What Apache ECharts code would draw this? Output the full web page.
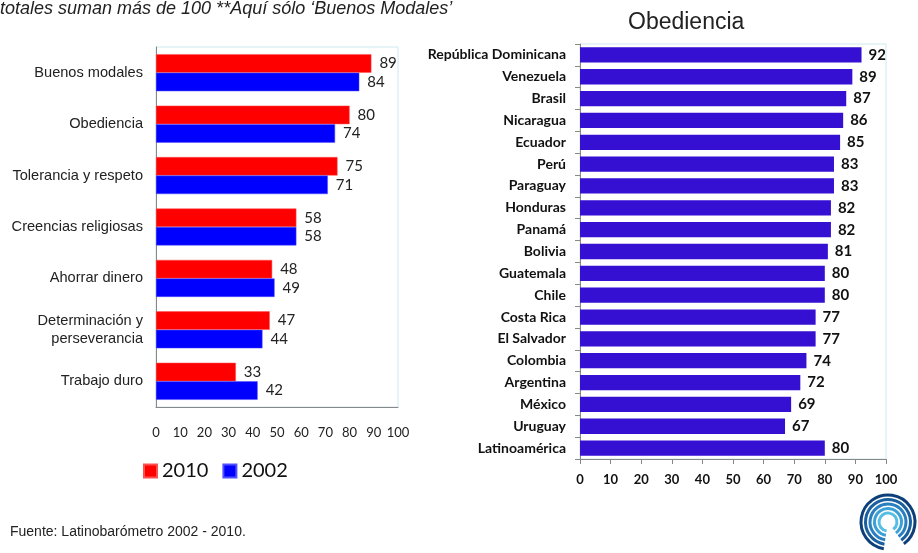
<!DOCTYPE html>
<html>
<head>
<meta charset="utf-8">
<script src="https://cdn.jsdelivr.net/npm/echarts@6/dist/echarts.min.js"></script>
<style>
  html, body { margin: 0; padding: 0; background: #fff; }
  #main { width: 918px; height: 553px; }
</style>
</head>
<body>
<div id="main"></div>
<script>
// valores (izquierda)
var valores = ['Buenos modales', 'Obediencia', 'Tolerancia y respeto', 'Creencias religiosas',
  'Ahorrar dinero', 'Determinación y\nperseverancia', 'Trabajo duro'];
var datos2010 = [89, 80, 75, 58, 48, 47, 33];
var datos2002 = [84, 74, 71, 58, 49, 44, 42];

// obediencia por país (derecha)
var paises = ['República Dominicana', 'Venezuela', 'Brasil', 'Nicaragua', 'Ecuador', 'Perú', 'Paraguay',
  'Honduras', 'Panamá', 'Bolivia', 'Guatemala', 'Chile', 'Costa Rica', 'El Salvador', 'Colombia',
  'Argentina', 'México', 'Uruguay', 'Latinoamérica'];
var obediencia = [92, 89, 87, 86, 85, 83, 83, 82, 82, 81, 80, 80, 77, 77, 74, 72, 69, 67, 80];

var chart = echarts.init(document.getElementById('main'));

var labelFont = 'Lato, "Open Sans", sans-serif';
var arial = '"Liberation Sans", Arial, sans-serif';

// logo aproximado (franjas azules)
var logo = [];
var blues = ['#0d3f7a', '#1a5f9e', '#2a7fc0', '#3aa0d6', '#56bde3'];
for (var i = 0; i < blues.length; i++) {
  logo.push({
    type: 'arc',
    shape: { cx: 888, cy: 522, r: 27 - i * 4.5, startAngle: Math.PI * 0.55, endAngle: Math.PI * 2.3 },
    style: { stroke: blues[i], lineWidth: 3, fill: null }
  });
}

chart.setOption({
  animation: false,
  textStyle: { fontFamily: arial },
  graphic: [
    {
      type: 'text', left: 0, top: 0,
      style: { text: 'totales suman más de 100 **Aquí sólo ‘Buenos Modales’', fontSize: 18,
        fontStyle: 'italic', fill: '#222', fontFamily: arial }
    },
    {
      type: 'text', left: 10, top: 525,
      style: { text: 'Fuente: Latinobarómetro 2002 - 2010.', fontSize: 14, fill: '#222', fontFamily: arial }
    }
  ].concat(logo),
  title: {
    text: 'Obediencia',
    left: 623, top: 6,
    textStyle: { fontSize: 23, fontWeight: 'normal', color: '#222', fontFamily: arial }
  },
  legend: {
    left: 143, top: 461, padding: 0,
    itemWidth: 13, itemHeight: 13, itemGap: 14,
    icon: 'rect',
    data: ['2010', '2002'],
    textStyle: { fontSize: 20, color: '#111', fontFamily: labelFont }
  },
  grid: [
    { left: 156, top: 47, width: 242, height: 360, show: true, borderColor: '#cfe9ee', borderWidth: 1 },
    { left: 580, top: 44, width: 306, height: 415, show: true, borderColor: '#cfe9ee', borderWidth: 1 }
  ],
  xAxis: [
    {
      gridIndex: 0, type: 'value', min: 0, max: 100, interval: 10,
      splitLine: { show: false },
      axisLine: { show: true, lineStyle: { color: '#888' } },
      axisTick: { show: false },
      axisLabel: { margin: 19, fontSize: 13, color: '#222', fontFamily: labelFont }
    },
    {
      gridIndex: 1, type: 'value', min: 0, max: 100, interval: 10,
      splitLine: { show: false },
      axisLine: { show: true, lineStyle: { color: '#888' } },
      axisTick: { show: true, length: 5, lineStyle: { color: '#888' } },
      axisLabel: { margin: 14, fontSize: 13, fontWeight: 'bold', color: '#111', fontFamily: labelFont }
    }
  ],
  yAxis: [
    {
      gridIndex: 0, type: 'category', data: valores, inverse: true,
      axisLine: { show: true, lineStyle: { color: '#888' } },
      axisTick: { show: false },
      axisLabel: { margin: 13, fontSize: 14.6, color: '#222', lineHeight: 18, align: 'right' }
    },
    {
      gridIndex: 1, type: 'category', data: paises, inverse: true,
      axisLine: { show: true, lineStyle: { color: '#888' } },
      axisTick: { show: true, length: 5, lineStyle: { color: '#888' } },
      axisLabel: { margin: 14, fontSize: 14, fontWeight: 'bold', color: '#111', fontFamily: labelFont }
    }
  ],
  series: [
    {
      name: '2010', type: 'bar', xAxisIndex: 0, yAxisIndex: 0, data: datos2010,
      barGap: '0%', barCategoryGap: '28%',
      itemStyle: { color: '#ff0000', borderColor: '#ff5050', borderWidth: 0.5 },
      label: { show: true, position: 'right', distance: 8, fontSize: 15, color: '#222', fontFamily: labelFont }
    },
    {
      name: '2002', type: 'bar', xAxisIndex: 0, yAxisIndex: 0, data: datos2002,
      barGap: '0%', barCategoryGap: '28%',
      itemStyle: { color: '#0000ff', borderColor: '#5050ff', borderWidth: 0.5 },
      label: { show: true, position: 'right', distance: 8, fontSize: 15, color: '#222', fontFamily: labelFont }
    },
    {
      name: 'Obediencia', type: 'bar', xAxisIndex: 1, yAxisIndex: 1, data: obediencia,
      barCategoryGap: '30%',
      itemStyle: { color: '#350fd2' },
      label: { show: true, position: 'right', distance: 7, fontSize: 15, fontWeight: 'bold', color: '#111', fontFamily: labelFont }
    }
  ]
});
</script>
</body>
</html>
